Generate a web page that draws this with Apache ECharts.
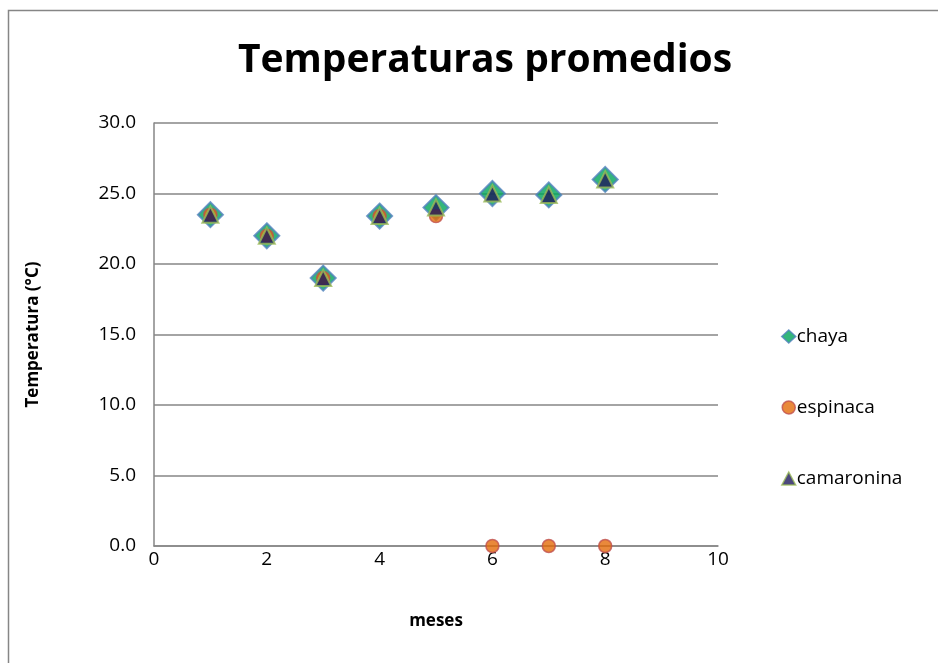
<!DOCTYPE html>
<html>
<head>
<meta charset="utf-8">
<script src="https://cdn.jsdelivr.net/npm/echarts@6/dist/echarts.min.js"></script>
<style>
  html, body { margin: 0; padding: 0; background: #fff; }
  #chart { width: 938px; height: 663px; }
</style>
</head>
<body>
<div id="chart"></div>
<script>
  const meses = [1, 2, 3, 4, 5, 6, 7, 8]
  const chaya = [23.5, 22.0, 19.0, 23.4, 24.0, 25.0, 24.9, 26.0]
  const espinaca = [23.5, 22.0, 19.0, 23.4, 23.4, 0, 0, 0]
  const camaronina = [23.5, 22.0, 19.0, 23.4, 24.0, 25.0, 24.9, 26.0]
  const xTicks = [0, 2, 4, 6, 8, 10]
  const yTicks = [0, 5, 10, 15, 20, 25, 30]

  const pairs = (vals) => meses.map((m, i) => [m, vals[i]])
  const font = 'Open Sans, Liberation Sans, sans-serif'

  const chart = echarts.init(document.getElementById('chart'))
  chart.setOption({
    animation: false,
    graphic: [{
      type: 'rect',
      shape: { x: 8.5, y: 10.5, width: 1000, height: 1000 },
      style: { fill: 'none', stroke: '#868686', lineWidth: 1.5 },
      silent: true
    }],
    title: {
      text: 'Temperaturas promedios',
      left: 480,
      textAlign: 'center',
      top: 36,
      textStyle: { fontFamily: font, fontSize: 39, fontWeight: 'bold', color: '#000' }
    },
    grid: { left: 154, right: 220, top: 123, bottom: 117 },
    legend: {
      orient: 'vertical',
      left: 776,
      top: 322,
      itemGap: 52,
      itemWidth: 14,
      itemHeight: 13,
      textStyle: { fontFamily: font, fontSize: 19, color: '#000', padding: [0, 0, 0, -4] },
      data: [
        { name: 'chaya', itemStyle: { borderWidth: 1.5 } },
        { name: 'espinaca', icon: 'path://M50,15 A35,35 0 1 1 49.9,15 Z', itemStyle: { borderWidth: 1.5 } },
        { name: 'camaronina', icon: 'path://M50,10 L90,85 L10,85 Z', itemStyle: { borderWidth: 1.5 } }
      ]
    },
    xAxis: {
      type: 'value',
      min: 0, max: 10, interval: 2,
      name: 'meses',
      nameLocation: 'middle',
      nameGap: 67,
      nameTextStyle: { fontFamily: font, fontSize: 17, fontWeight: 'bold', color: '#000' },
      axisLine: { show: true, onZero: false, lineStyle: { color: '#868686', width: 1.5 } },
      axisTick: { show: false },
      splitLine: { show: false },
      axisLabel: {
        fontFamily: font, fontSize: 19, color: '#000', margin: 4,
        formatter: (v) => xTicks.includes(v) ? String(v) : ''
      }
    },
    yAxis: {
      type: 'value',
      min: 0, max: 30, interval: 5,
      name: 'Temperatura (°C)',
      nameLocation: 'middle',
      nameRotate: 90,
      nameGap: 112,
      nameTextStyle: { fontFamily: font, fontSize: 17, fontWeight: 'bold', color: '#000' },
      axisLine: { show: true, lineStyle: { color: '#868686', width: 1.5 } },
      axisTick: { show: false },
      splitLine: { lineStyle: { color: '#868686', width: 1.5 } },
      axisLabel: {
        fontFamily: font, fontSize: 19, color: '#000', margin: 18,
        formatter: (v) => yTicks.includes(v) ? v.toFixed(1) : ''
      }
    },
    series: [
      {
        name: 'chaya',
        type: 'scatter',
        symbol: 'diamond',
        symbolSize: 25,
        z: 2,
        itemStyle: { color: '#00a45a', borderColor: '#4f81bd', borderWidth: 2 },
        data: pairs(chaya)
      },
      {
        name: 'espinaca',
        type: 'scatter',
        symbol: 'circle',
        symbolSize: 13,
        z: 3,
        itemStyle: { color: '#e46c0a', borderColor: '#c0504d', borderWidth: 1.5 },
        data: pairs(espinaca)
      },
      {
        name: 'camaronina',
        type: 'scatter',
        symbol: 'triangle',
        symbolSize: 16,
        z: 4,
        itemStyle: { color: '#1f1a5c', borderColor: '#9bbb59', borderWidth: 2 },
        data: pairs(camaronina)
      }
    ]
  })
</script>
</body>
</html>
